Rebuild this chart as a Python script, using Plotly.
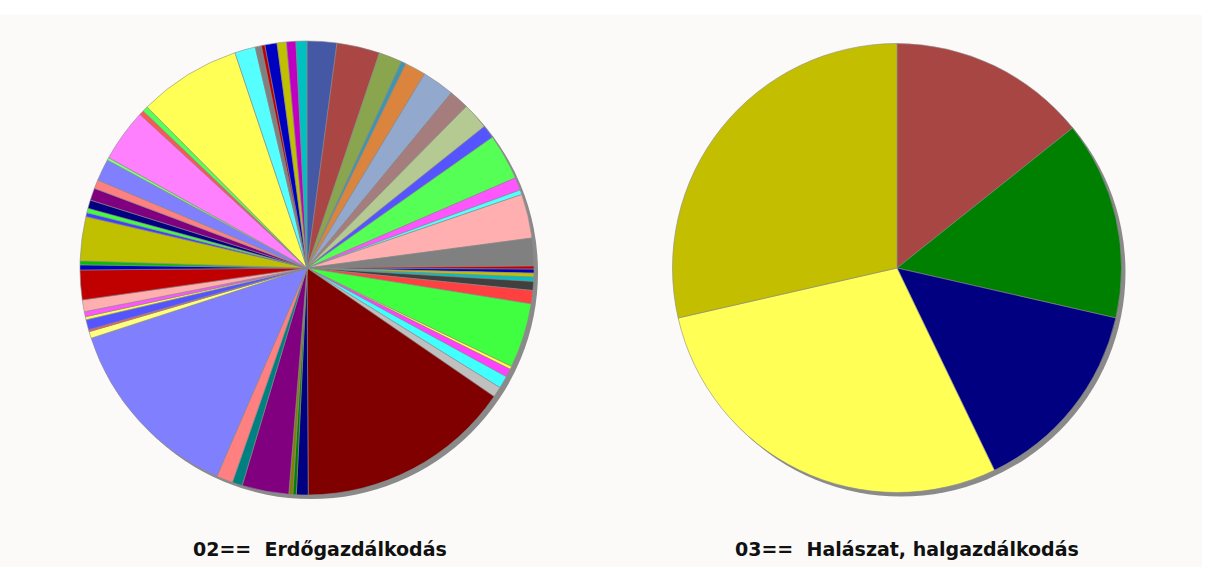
import plotly.graph_objects as go

W, H = 1210, 567

# ---- Left pie: 02== Erdőgazdálkodás (slice sizes read in degrees, clockwise from 12 o'clock)
left_values = [7.6, 11.0, 6.0, 1.2, 5.4, 8.3, 5.1, 6.8, 3.4, 11.8, 3.3, 1.2, 11.3, 7.1,
               0.8, 1.0, 1.0, 1.1, 2.3, 3.4, 16.6, 0.8, 2.1, 3.2, 2.7, 55.2, 3.0, 0.9,
               1.0, 12.0, 2.6, 4.2, 48.6, 1.7, 0.5, 2.6, 0.8, 1.3, 3.0, 7.6, 1.3, 1.0,
               11.3, 1.0, 1.15, 2.15, 3.15, 2.25, 5.6, 0.7, 13.5, 1.2, 1.4, 26.3, 5.3,
               1.6, 0.9, 3.1, 2.4, 2.4, 2.8]
left_labels = [f"02-{i + 1:02d}" for i in range(len(left_values))]
left_colors = ["#4558A6", "#AA4643", "#89A54E", "#3D96AE", "#DB843D", "#92A8CD", "#A47D7C",
               "#B5CA92", "#5555FF", "#55FF55", "#FF55FF", "#55FFFF", "#FFAFAF", "#808080",
               "#C00000", "#0000C0", "#C0C000", "#00C0C0", "#404040", "#FF4040", "#40FF40",
               "#FFFF40", "#FF40FF", "#40FFFF", "#C0C0C0", "#800000", "#000080", "#008000",
               "#808000", "#800080", "#008080", "#FF8080", "#8080FF", "#FFFF80", "#FF5555",
               "#5555FF", "#FFFF55", "#FF55FF", "#FFAFAF", "#C00000", "#0000C0", "#00C000",
               "#C0C000", "#4040FF", "#40FF40", "#000080", "#800080", "#FF8080", "#8080FF",
               "#80FF80", "#FF80FF", "#FF5555", "#55FF55", "#FFFF55", "#55FFFF", "#808080",
               "#C00000", "#0000C0", "#C0C000", "#C000C0", "#00C0C0"]

# ---- Right pie: 03== Halászat, halgazdálkodás
right_values = [1, 1, 1, 2, 2]
right_labels = ["03-01", "03-02", "03-03", "03-04", "03-05"]
right_colors = ["#A84643", "#008000", "#000080", "#FFFF55", "#C4BE00"]

titles = ["02==\u00a0 Erdőgazdálkodás", "03==\u00a0 Halászat, halgazdálkodás"]


def dom(cx, cy, r):
    return dict(x=[(cx - r) / W, (cx + r) / W], y=[1 - (cy + r) / H, 1 - (cy - r) / H])


L = (307, 268, 227)
R = (897, 268, 224.5)
SH = 4

fig = go.Figure()
for (cx, cy, r) in (L, R):
    fig.add_trace(go.Pie(values=[1], labels=["shadow"], domain=dom(cx + SH, cy + SH, r),
                         marker=dict(colors=["#8a8a8a"], line=dict(width=0)),
                         textinfo="none", hoverinfo="skip", sort=False, showlegend=False))

fig.add_trace(go.Pie(values=left_values, labels=left_labels, domain=dom(*L),
                     marker=dict(colors=left_colors, line=dict(color="#8c8c8c", width=0.6)),
                     direction="clockwise", rotation=0, sort=False, textinfo="none",
                     showlegend=False))
fig.add_trace(go.Pie(values=right_values, labels=right_labels, domain=dom(*R),
                     marker=dict(colors=right_colors, line=dict(color="#8c8c8c", width=0.6)),
                     direction="clockwise", rotation=0, sort=False, textinfo="none",
                     showlegend=False))

for t, xc in zip(titles, (320, 907)):
    fig.add_annotation(text=t, x=xc / W, y=1 - 549 / H, xref="paper", yref="paper",
                       showarrow=False, xanchor="center", yanchor="middle",
                       font=dict(family="DejaVu Sans", size=19, color="#111111", weight="bold"))

fig.add_shape(type="rect", xref="paper", yref="paper", x0=0, x1=1202 / W, y0=0, y1=1 - 15 / H,
              fillcolor="#FBFAF8", line=dict(width=0), layer="below")

fig.update_layout(width=W, height=H, margin=dict(l=0, r=0, t=0, b=0),
                  paper_bgcolor="#FFFFFF", plot_bgcolor="#FFFFFF", showlegend=False)

fig.write_html("out.html", config={"displayModeBar": False},
               post_script="document.body.style.margin='0';document.body.style.overflow='hidden';")
